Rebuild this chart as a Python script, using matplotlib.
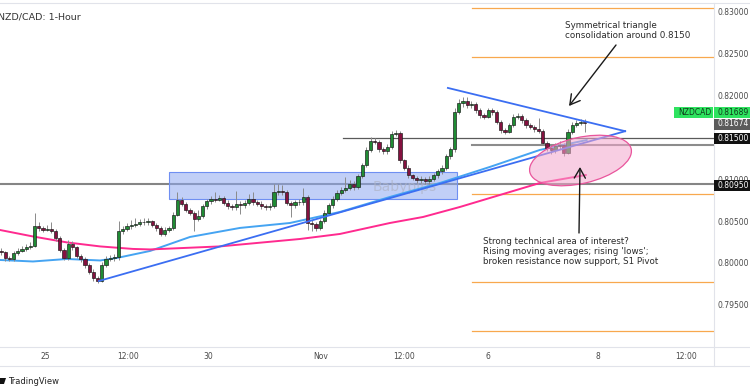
import matplotlib
matplotlib.use("Agg")
import matplotlib.pyplot as plt
import matplotlib.patches as mpatches
import matplotlib.transforms as mtransforms
import numpy as np

# NZD/CAD hourly candles
first_open = 0.8016
closes = [
    0.8014, 0.8007, 0.8006, 0.8013, 0.8016, 0.8018, 0.8020, 0.8022, 0.8045, 0.8043,
    0.8041, 0.8042, 0.8040, 0.8031, 0.8017, 0.8007, 0.8024, 0.8020, 0.8010, 0.8006,
    0.7999, 0.7991, 0.7983, 0.7980, 0.7999, 0.8006, 0.8007, 0.8008, 0.8040, 0.8042,
    0.8045, 0.8047, 0.8048, 0.8050, 0.8050, 0.8051, 0.8047, 0.8043, 0.8036, 0.8041,
    0.8043, 0.8059, 0.8077, 0.8072, 0.8065, 0.8061, 0.8054, 0.8057, 0.8069, 0.8075,
    0.8078, 0.8077, 0.8079, 0.8073, 0.8069, 0.8068, 0.8072, 0.8070, 0.8073, 0.8078,
    0.8074, 0.8072, 0.8069, 0.8068, 0.8069, 0.8086, 0.8087, 0.8086, 0.8073, 0.8070,
    0.8074, 0.8074, 0.8080, 0.8049, 0.8048, 0.8043, 0.8051, 0.8061, 0.8070, 0.8078,
    0.8085, 0.8089, 0.8091, 0.8096, 0.8092, 0.8105, 0.8118, 0.8136, 0.8147, 0.8146,
    0.8137, 0.8135, 0.8140, 0.8155, 0.8157, 0.8124, 0.8115, 0.8106, 0.8103, 0.8100,
    0.8102, 0.8099, 0.8102, 0.8106, 0.8111, 0.8115, 0.8129, 0.8137, 0.8182, 0.8192,
    0.8195, 0.8190, 0.8191, 0.8184, 0.8178, 0.8176, 0.8184, 0.8182, 0.8170, 0.8160,
    0.8158, 0.8166, 0.8176, 0.8177, 0.8172, 0.8166, 0.8164, 0.8161, 0.8159, 0.8145,
    0.8139, 0.8136, 0.8141, 0.8142, 0.8133, 0.8158, 0.8166, 0.8169, 0.8170, 0.8169,
]
highs = [
    0.8019, 0.8016, 0.8010, 0.8015, 0.8019, 0.8021, 0.8024, 0.8026, 0.8061, 0.8050,
    0.8046, 0.8047, 0.8050, 0.8042, 0.8033, 0.8019, 0.8029, 0.8027, 0.8022, 0.8012,
    0.8008, 0.8001, 0.7994, 0.7986, 0.8002, 0.8010, 0.8011, 0.8012, 0.8051, 0.8046,
    0.8049, 0.8052, 0.8055, 0.8054, 0.8055, 0.8055, 0.8053, 0.8049, 0.8045, 0.8044,
    0.8046, 0.8062, 0.8086, 0.8080, 0.8074, 0.8067, 0.8063, 0.8064, 0.8072, 0.8078,
    0.8081, 0.8086, 0.8083, 0.8081, 0.8076, 0.8072, 0.8087, 0.8075, 0.8077, 0.8084,
    0.8086, 0.8077, 0.8075, 0.8072, 0.8073, 0.8096, 0.8095, 0.8094, 0.8088, 0.8075,
    0.8077, 0.8078, 0.8091, 0.8082, 0.8052, 0.8050, 0.8054, 0.8064, 0.8073, 0.8081,
    0.8089, 0.8092, 0.8104, 0.8100, 0.8099, 0.8108, 0.8121, 0.8140, 0.8152, 0.8150,
    0.8148, 0.8140, 0.8143, 0.8159, 0.8160, 0.8159, 0.8126, 0.8118, 0.8108, 0.8105,
    0.8105, 0.8104, 0.8105, 0.8109, 0.8114, 0.8118, 0.8132, 0.8140, 0.8186, 0.8197,
    0.8199, 0.8199, 0.8195, 0.8193, 0.8186, 0.8181, 0.8187, 0.8186, 0.8184, 0.8172,
    0.8163, 0.8169, 0.8179, 0.8181, 0.8179, 0.8174, 0.8168, 0.8166, 0.8174, 0.8161,
    0.8147, 0.8142, 0.8144, 0.8147, 0.8144, 0.8161, 0.8170, 0.8172, 0.8173, 0.8173,
]
lows = [
    0.8011, 0.8004, 0.8003, 0.8004, 0.8011, 0.8014, 0.8016, 0.8018, 0.8020, 0.8040,
    0.8038, 0.8039, 0.8037, 0.8028, 0.8014, 0.8005, 0.8005, 0.8017, 0.8007, 0.8002,
    0.7995, 0.7988, 0.7980, 0.7977, 0.7978, 0.7996, 0.8003, 0.8004, 0.8005, 0.8036,
    0.8039, 0.8042, 0.8044, 0.8046, 0.8047, 0.8047, 0.8044, 0.8040, 0.8033, 0.8034,
    0.8038, 0.8041, 0.8057, 0.8069, 0.8062, 0.8058, 0.8040, 0.8051, 0.8055, 0.8066,
    0.8072, 0.8074, 0.8075, 0.8070, 0.8066, 0.8064, 0.8065, 0.8060, 0.8067, 0.8070,
    0.8071, 0.8069, 0.8066, 0.8065, 0.8065, 0.8067, 0.8083, 0.8083, 0.8070, 0.8056,
    0.8067, 0.8071, 0.8071, 0.8041, 0.8040, 0.8039, 0.8041, 0.8049, 0.8058, 0.8067,
    0.8075, 0.8082, 0.8086, 0.8088, 0.8089, 0.8090, 0.8103, 0.8116, 0.8134, 0.8143,
    0.8134, 0.8132, 0.8132, 0.8138, 0.8153, 0.8121, 0.8112, 0.8103, 0.8100, 0.8097,
    0.8097, 0.8096, 0.8096, 0.8099, 0.8103, 0.8108, 0.8112, 0.8126, 0.8134, 0.8179,
    0.8188, 0.8186, 0.8186, 0.8181, 0.8175, 0.8173, 0.8174, 0.8178, 0.8167, 0.8157,
    0.8155, 0.8156, 0.8164, 0.8173, 0.8169, 0.8163, 0.8161, 0.8158, 0.8156, 0.8142,
    0.8135, 0.8132, 0.8133, 0.8138, 0.8129, 0.8131, 0.8155, 0.8164, 0.8166, 0.8158,
]
opens = [first_open] + closes[:-1]

# moving averages (bar index, price)
fast_ma_bar = [-0.3, 7.6, 15.7, 23.6, 27.6, 35.5, 45.0, 56.9, 68.8, 80.7, 92.6, 104.5, 116.4, 128.3, 139.5]
fast_ma = [0.80048, 0.80030, 0.80060, 0.80042, 0.80072, 0.80156, 0.80323, 0.80431,
           0.80490, 0.80622, 0.80801, 0.80968, 0.81160, 0.81363, 0.81482]
slow_ma_bar = [-0.3, 7.6, 15.7, 23.6, 31.4, 35.5, 52.1, 71.2, 80.7, 92.6, 100.5, 109.3, 128.3, 139.3]
slow_ma = [0.80407, 0.80329, 0.80258, 0.80210, 0.80180, 0.80174, 0.80210, 0.80299,
           0.80359, 0.80490, 0.80562, 0.80682, 0.80968, 0.81064]

# triangle
tri_low_bar = [23.3, 148.6]
tri_low = [0.79797, 0.81587]
tri_high_bar = [106.4, 148.6]
tri_high = [0.82104, 0.81587]

# zone and levels
zone_bar = [40.0, 108.6]
zone_price = [0.80777, 0.81100]
pivots = [0.83056, 0.82470, 0.80837, 0.79789, 0.79200]
pivot_start = 112.1
res_level = 0.8150
res_start = 81.4
sup_level = 0.81423
sup_start = 112.1
old_res = 0.8095

price_ticks = [0.795, 0.800, 0.805, 0.810, 0.815, 0.820, 0.825, 0.830]
time_bars = [10.5, 30.2, 49.3, 76.0, 96.0, 116.0, 142.1, 163.1]
time_labels = ["25", "12:00", "30", "Nov", "12:00", "6", "8", "12:00"]
last_price = 0.81689
bid_price = 0.81674

W, H = 750, 392
fig = plt.figure(figsize=(W / 100, H / 100), dpi=100)
fig.patch.set_facecolor("white")


def fx(x):
    return x / W


def fy(y):
    return 1 - y / H


ax = fig.add_axes([0, fy(346), fx(714), (346 - 4) / H])
ax.set_xlim(-0.24, 169.76)
ax.set_ylim(0.79020, 0.83107)
for s in ax.spines.values():
    s.set_visible(False)
ax.set_xticks([])
ax.set_yticks([])

x = np.arange(len(closes))
o = np.array(opens)
c = np.array(closes)
up = c >= o
body_lo = np.minimum(o, c)
body_h = np.maximum(np.abs(c - o), 0.00005)
cols = np.where(up, "#1f8c34", "#84113f")

ax.vlines(x, lows, highs, color="#8a8a8a", lw=0.7, zorder=3)
ax.bar(x, body_h, bottom=body_lo, width=0.72, color=cols,
       edgecolor="#151515", lw=0.45, zorder=4)

ax.plot(fast_ma_bar, fast_ma, color="#45a4f2", lw=1.4, zorder=2.5, solid_capstyle="round")
ax.plot(slow_ma_bar, slow_ma, color="#ff2a8f", lw=1.4, zorder=2.5, solid_capstyle="round")

ax.plot(tri_low_bar, tri_low, color="#3b6ef2", lw=1.3, zorder=5)
ax.plot(tri_high_bar, tri_high, color="#3b6ef2", lw=1.3, zorder=5)

ax.add_patch(mpatches.Rectangle((zone_bar[0], zone_price[0]), zone_bar[1] - zone_bar[0],
                                zone_price[1] - zone_price[0], facecolor="#8ea8f2",
                                alpha=0.55, edgecolor="none", zorder=2))
ax.add_patch(mpatches.Rectangle((zone_bar[0], zone_price[0]), zone_bar[1] - zone_bar[0],
                                zone_price[1] - zone_price[0], facecolor="none",
                                edgecolor="#6f8ff2", lw=0.8, zorder=2.2))
ax.text(96.2, 0.80915, "Babypips", color="#aeb3c6", alpha=0.7, fontsize=10,
        ha="center", va="center", zorder=2.3)

xr = 169.76
for p in pivots:
    ax.plot([pivot_start, xr], [p, p], color="#f8a84e", lw=0.9, zorder=1)
ax.plot([res_start, xr], [res_level, res_level], color="#5a5a5a", lw=0.9, zorder=1)
ax.plot([sup_start, xr], [sup_level, sup_level], color="#8c8c8c", lw=1.5, zorder=1)
ax.plot([-1, xr], [old_res, old_res], color="#858585", lw=1.5, zorder=1)

# price axis labels
yax = ax.get_yaxis_transform()
for p in price_ticks:
    ax.text(1.0056, p, f"{p:.5f}", transform=yax, fontsize=5.5, color="#4a4a4a",
            ha="left", va="center", clip_on=False)

# time axis labels
tt = mtransforms.blended_transform_factory(ax.transData, fig.transFigure)
for b, lab in zip(time_bars, time_labels):
    ax.text(b, fy(356.5), lab, transform=tt, fontsize=5.5, color="#4a4a4a",
            ha="center", va="center", clip_on=False)


def tag(x0, x1, y0, y1, text, fc, tc):
    fig.add_artist(mpatches.Rectangle((fx(x0), fy(y1)), fx(x1) - fx(x0), (y1 - y0) / H,
                                      transform=fig.transFigure, facecolor=fc,
                                      edgecolor="none", zorder=10))
    fig.text(fx((x0 + x1) / 2 + 1), fy((y0 + y1) / 2), text, fontsize=5.5, color=tc,
             ha="center", va="center", zorder=11)


tag(674, 713, 107, 117.5, "NZDCAD", "#2ee35f", "#103a1c")
tag(714, 750, 107, 117.5, f"{last_price:.5f}", "#2ee35f", "#103a1c")
tag(714, 750, 118.5, 129.5, f"{bid_price:.5f}", "#5b5b5b", "white")
tag(714, 750, 132.5, 144, f"{res_level:.5f}", "#111111", "white")
tag(714, 750, 180, 191, f"{old_res:.5f}", "#111111", "white")

# frame lines
grey = "#e1e3ea"
fig.add_artist(plt.Line2D([0, 1], [fy(3), fy(3)], color=grey, lw=0.8))
fig.add_artist(plt.Line2D([fx(714), fx(714)], [fy(3), fy(366)], color=grey, lw=0.8))
fig.add_artist(plt.Line2D([0, 1], [fy(346.5), fy(346.5)], color=grey, lw=0.8))
fig.add_artist(plt.Line2D([0, 1], [fy(366), fy(366)], color=grey, lw=0.8))

# ellipse highlighting the support area
px = mtransforms.Affine2D().scale(1 / 100) + fig.dpi_scale_trans
fig.add_artist(mpatches.Ellipse((580.5, H - 160.5), 104, 46, angle=13, transform=px,
                                facecolor="#f4a6cc", alpha=0.55, edgecolor="none", zorder=7))
fig.add_artist(mpatches.Ellipse((580.5, H - 160.5), 104, 46, angle=13, transform=px,
                                facecolor="none", edgecolor="#e9559c", lw=0.9, zorder=7))

arrow = dict(arrowstyle="->,head_length=0.7,head_width=0.4", color="#1a1a1a", lw=1.0,
             mutation_scale=10, shrinkA=0, shrinkB=0)
fig.add_artist(matplotlib.text.Annotation("", xy=(fx(569), fy(106)), xytext=(fx(616), fy(45)),
                                          xycoords="figure fraction", arrowprops=arrow, zorder=8))
fig.add_artist(matplotlib.text.Annotation("", xy=(fx(580), fy(167)), xytext=(fx(579), fy(233)),
                                          xycoords="figure fraction", arrowprops=arrow, zorder=8))

fig.text(fx(565), fy(21), "Symmetrical triangle\nconsolidation around 0.8150", fontsize=6.3,
         color="#2b2b2b", ha="left", va="top", linespacing=1.15)
fig.text(fx(483), fy(236.5), "Strong technical area of interest?\nRising moving averages; rising 'lows';\n"
         "broken resistance now support, S1 Pivot", fontsize=6.3, color="#2b2b2b",
         ha="left", va="top", linespacing=1.15)

fig.text(fx(-1.5), fy(17), "NZD/CAD: 1-Hour", fontsize=6.8, color="#333333", ha="left", va="center")

# TradingView footer
fig.add_artist(mpatches.Polygon([(fx(0), fy(384)), (fx(4), fy(384)), (fx(6), fy(378)), (fx(0), fy(378))],
                                closed=True, transform=fig.transFigure, facecolor="#111111"))
fig.text(fx(8), fy(381), "TradingView", fontsize=6, color="#222222", ha="left", va="center")

fig.savefig("out.png", dpi=100, facecolor="white")
